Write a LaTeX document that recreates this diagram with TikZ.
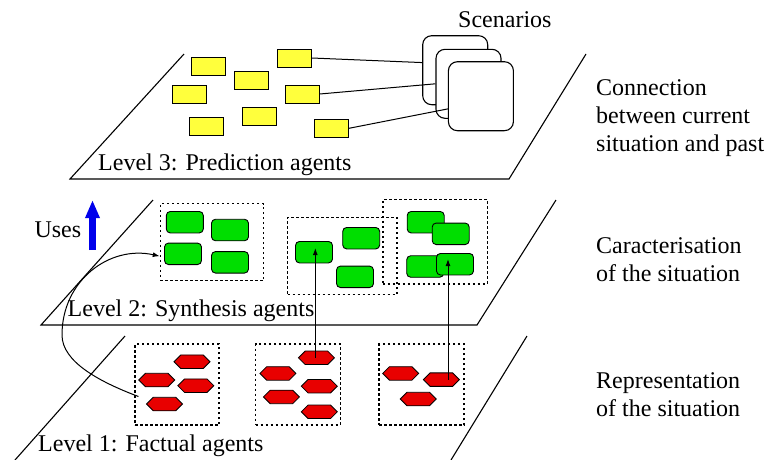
\documentclass[tikz,border=0pt]{standalone}
\usepackage{fontspec}
\setmainfont{Liberation Serif}
\usepackage{tikz}
\usetikzlibrary{positioning}
\usetikzlibrary{shapes.symbols,arrows.meta}

\definecolor{agYellow}{RGB}{255,255,60}
\definecolor{agGreen}{RGB}{0,222,0}
\definecolor{agRed}{RGB}{232,0,0}
\definecolor{agBlue}{RGB}{0,0,235}

\begin{document}
\begin{tikzpicture}[
		x=1pt, y=-1pt,
		lbl/.style={anchor=base west, inner sep=0pt, font=\fontsize{24}{28}\selectfont},
		plane/.style={line width=1.1pt},
		ylw/.style={draw, line width=0.9pt, fill=agYellow, minimum width=34pt, minimum height=18pt, inner sep=0pt},
		grn/.style={draw, line width=0.9pt, fill=agGreen, rounded corners=4pt, minimum width=37pt, minimum height=21.5pt, inner sep=0pt},
		hexa/.style={draw, line width=0.8pt, fill=agRed, shape=signal, signal to=east and west, minimum width=36pt, minimum height=13.5pt, inner sep=0pt},
		grp/.style={draw, line width=1.1pt, dash pattern=on 2.5pt off 2.5pt, inner sep=0pt},
		card/.style={draw, line width=1.1pt, fill=white, rounded corners=9pt, minimum width=65pt, minimum height=69pt, inner sep=0pt},
		arr/.style={line width=1pt, -{Latex[length=7pt,width=5pt]}}
	]
		\useasboundingbox (0,0) rectangle (770,459);

		% the three levels
		\draw[plane] (184,54) -- (70,179) -- (509,179) -- (586,54);
		\draw[plane] (153,200) -- (41,325) -- (477,325) -- (556,200);
		\draw[plane] (125,336) -- (15,460);
		\draw[plane] (527,336) -- (451,460);

		\node[lbl] (l3) at (98,170) {Level 3: Prediction agents};
		\node[lbl] (l2) at (67.5,316) {Level 2: Synthesis agents};
		\node[lbl] (l1) at (38,451) {Level 1: Factual agents};

		\node[lbl] (c1) at (596,95) {Connection};
		\node[lbl] (c2) at (596,123) {between current};
		\node[lbl] (c3) at (596,151) {situation and past};
		\node[lbl] (s1) at (596,253) {Caracterisation};
		\node[lbl] (s2) at (596,281) {of the situation};
		\node[lbl] (r1) at (596,388) {Representation};
		\node[lbl] (r2) at (596,416) {of the situation};

		\node[lbl] (uses) at (34.3,237) {Uses};
		\coordinate (ub) at (92.5,250);
		\coordinate (ut) at (92.5,200);
		\draw[agBlue, line width=6.5pt, -{Triangle[length=18pt,width=13.5pt]}] (ub) -- (ut);

		% prediction agents
		\node[ylw] (y1) at (208.3,66) {};
		\node[ylw] (y2) at (251.5,80) {};
		\node[ylw] (y3) at (189,94) {};
		\node[ylw] (y4) at (206.3,126.5) {};
		\node[ylw] (y5) at (259.3,116.3) {};
		\node[ylw] (y6) at (294.5,58) {};
		\node[ylw] (y7) at (302.3,94) {};
		\node[ylw] (y8) at (331.5,128.3) {};

		\node[lbl] (scen) at (458,27) {Scenarios};
		\node[card] (card1) at (455.2,70.2) {};
		\node[card] (card2) at (468.5,83.8) {};
		\node[card] (card3) at (480.9,96.2) {};
		\draw[line width=1pt] (y6.east) -- (card1.167);
		\draw[line width=1pt] (y7.east) -- (card2.west);
		\draw[line width=1pt] (y8.east) -- (card3.201);

		% synthesis agents
		\node[grp, minimum width=103.4pt, minimum height=77pt] (ga) at (212,242.2) {};
		\node[grp, minimum width=109.3pt, minimum height=77.4pt] (gb) at (342.3,256) {};
		\node[grp, minimum width=104.7pt, minimum height=84.3pt] (gc) at (435.3,241.8) {};
		\node[grn] (g1) at (184.8,222.2) {};
		\node[grn] (g2) at (230,230) {};
		\node[grn] (g3) at (183,253.8) {};
		\node[grn] (g4) at (230,262.3) {};
		\node[grn] (g5) at (314,252.2) {};
		\node[grn] (g6) at (361.2,238.2) {};
		\node[grn] (g7) at (355,276.8) {};
		\node[grn] (g8) at (425.7,222.2) {};
		\node[grn] (g9) at (450.7,233.8) {};
		\node[grn] (g10) at (425.2,266.5) {};
		\node[grn] (g11) at (455,264.2) {};

		% factual agents
		\node[grp, minimum width=84pt, minimum height=81pt] (ra) at (177,384.5) {};
		\node[grp, minimum width=84.7pt, minimum height=81pt] (rb) at (298,384.5) {};
		\node[grp, minimum width=85pt, minimum height=81pt] (rc) at (421.5,384.5) {};
		\node[hexa] (h1) at (192,361.7) {};
		\node[hexa] (h2) at (156.7,380) {};
		\node[hexa] (h3) at (195.8,385.7) {};
		\node[hexa] (h4) at (164.5,404) {};
		\node[hexa] (h5) at (316.4,357.8) {};
		\node[hexa] (h6) at (277.9,373.4) {};
		\node[hexa] (h7) at (319.3,386.2) {};
		\node[hexa] (h8) at (281.4,396.9) {};
		\node[hexa] (h9) at (319.3,411.8) {};
		\node[hexa] (h10) at (400.7,373.4) {};
		\node[hexa] (h11) at (441.4,379.6) {};
		\node[hexa] (h12) at (418.2,399) {};

		% links between levels
		\coordinate (tipB) at (315.3,248);
		\coordinate (tipC) at (448,259);
		\draw[arr] (h5.center -| tipB) -- (tipB);
		\draw[arr] (h11.center -| tipC) -- (tipC);
		\draw[arr] ([xshift=4pt,yshift=-12pt]ra.west) .. controls (100,382) and (62,362) .. (62,335)
			.. controls (62,280) and (110,245) .. ([yshift=-14pt]ga.west);
	\end{tikzpicture}
\end{document}
